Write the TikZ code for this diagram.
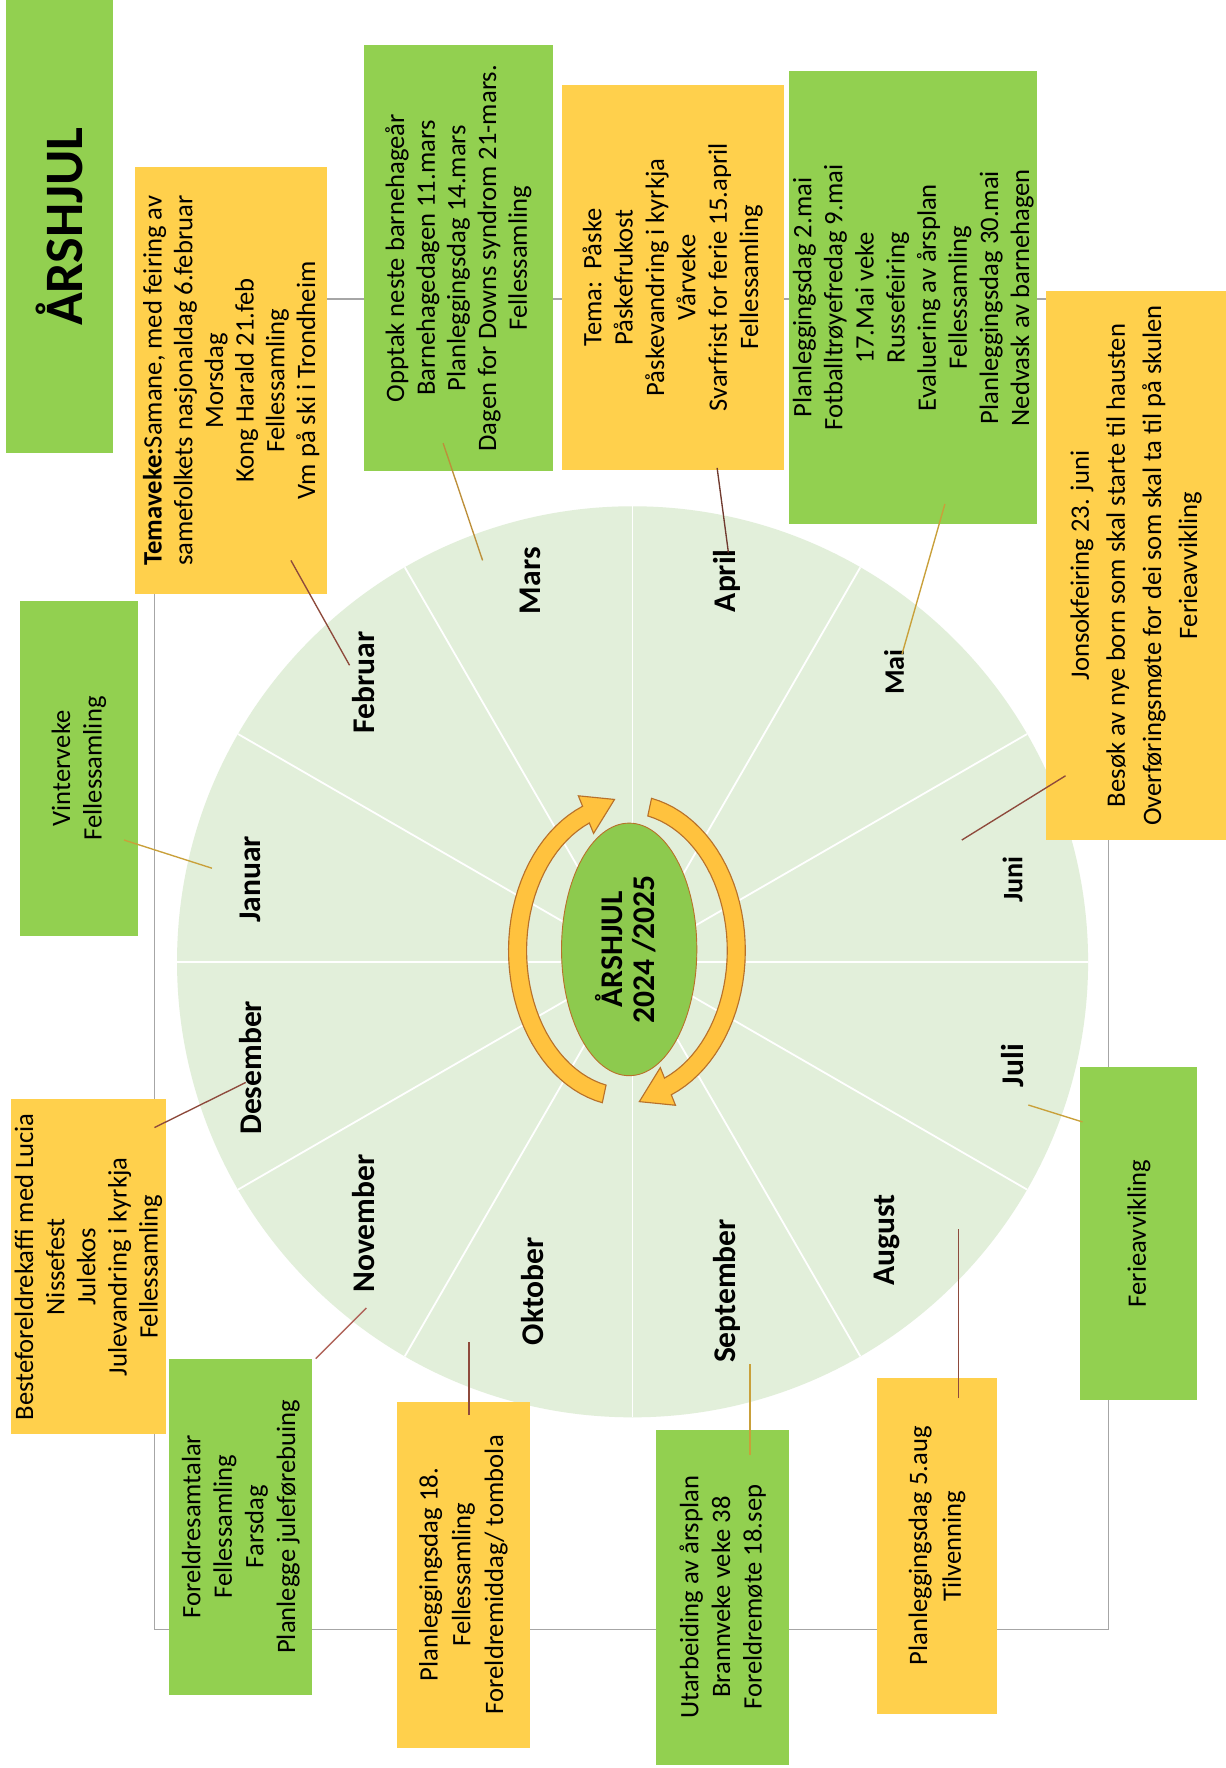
\documentclass[tikz,border=0pt]{standalone}
\usepackage{fontspec}
\setmainfont{Carlito}
\usetikzlibrary{calc,shapes.geometric}
\definecolor{boxgreen}{HTML}{92D050}
\definecolor{boxyellow}{HTML}{FFD04C}
\definecolor{wheelfill}{HTML}{E2EFDA}
\definecolor{framegray}{HTML}{A6A6A6}
\definecolor{arrowfill}{HTML}{FFC23E}
\definecolor{arrowline}{HTML}{B8712A}
\definecolor{ellfill}{HTML}{8DCA4E}
\definecolor{lngold}{HTML}{C9A03A}
\definecolor{lnbrown}{HTML}{8E4A3C}
\definecolor{lnpink}{HTML}{B0645A}
\begin{document}
\begin{tikzpicture}[x=0.5pt,y=-0.5pt,
  sz/.style 2 args={minimum width={(#1)*0.5pt}, minimum height={(#2)*0.5pt}},
  evbox/.style={rectangle, inner sep=0pt, rotate=90, align=center,
    font=\fontsize{11.8}{13.8}\selectfont},
  gbox/.style={evbox, fill=boxgreen},
  ybox/.style={evbox, fill=boxyellow},
  month/.style={rotate=90, inner sep=0pt, font=\bfseries\fontsize{14}{16}\selectfont},
  smonth/.style={month, font=\bfseries\fontsize{12.5}{14}\selectfont},
  conn/.style={line width=0.6pt},
  spoke/.style={white, line width=0.8pt},
  arrowshape/.style={fill=arrowfill, draw=arrowline, line width=0.5pt}]
\useasboundingbox (0,0) rectangle (1087,1568);
\fill[white] (0,0) rectangle (1087,1568);

% frame behind the boxes
\draw[framegray, line width=0.7pt] (137,265) rectangle (983,1445);

% wheel
\coordinate (wc) at (561,853);
\fill[wheelfill] (wc) circle[radius=404];
\foreach \a in {0,30,...,330}
  \draw[spoke] (wc) -- ++({404*cos(\a)},{404*sin(\a)});

% circular arrows
\def\acx{556}\def\acy{843}\def\arx{97}\def\ary{130}\def\ah{8}\def\ahh{18}
\filldraw[arrowshape]
  plot[domain=258:112, samples=40] ({\acx+(\arx+\ah)*cos(\x)},{\acy-(\ary+\ah)*sin(\x)})
  -- ({\acx+(\arx+\ahh)*cos(112)},{\acy-(\ary+\ahh)*sin(112)})
  -- (545,709)
  -- ({\acx+(\arx-\ahh)*cos(112)},{\acy-(\ary-\ahh)*sin(112)})
  -- plot[domain=112:258, samples=40] ({\acx+(\arx-\ah)*cos(\x)},{\acy-(\ary-\ah)*sin(\x)})
  -- cycle;
\filldraw[arrowshape]
  plot[domain=78:-68, samples=40] ({\acx+(\arx+\ah)*cos(\x)},{\acy-(\ary+\ah)*sin(\x)})
  -- ({\acx+(\arx+\ahh)*cos(-68)},{\acy-(\ary+\ahh)*sin(-68)})
  -- (567,977)
  -- ({\acx+(\arx-\ahh)*cos(-68)},{\acy-(\ary-\ahh)*sin(-68)})
  -- plot[domain=-68:78, samples=40] ({\acx+(\arx-\ah)*cos(\x)},{\acy-(\ary-\ah)*sin(\x)})
  -- cycle;

% centre
\node[ellipse, fill=ellfill, draw=arrowline, line width=0.4pt, minimum width=60pt, minimum height=112pt, inner sep=0pt] (centre) at (558,842) {};
\node[rotate=90, align=center, font=\bfseries\fontsize{14}{14.5}\selectfont] (centretext) at (555,842) {ÅRSHJUL\\2024 /2025};

% month labels
\node[month] (jan) at (222,780) {Januar};
\node[month] (feb) at (322,605) {Februar};
\node[month] (mar) at (470,515) {Mars};
\node[month] (apr) at (645,515) {April};
\node[smonth] (mai) at (793,596) {Mai};
\node[smonth] (jun) at (898,780) {Juni};
\node[month] (jul) at (898,945) {Juli};
\node[month] (aug) at (787,1100) {August};
\node[month] (sep) at (645,1145) {September};
\node[month] (okt) at (472,1145) {Oktober};
\node[month] (nov) at (322,1085) {November};
\node[month] (des) at (222,947) {Desember};

% title
\node[gbox, sz={402}{95}, font=\bfseries\fontsize{24}{26}\selectfont] (title) at (52.5,201) {ÅRSHJUL};

% event boxes
\node[gbox, sz={297}{104}, font=\fontsize{11.8}{14}\selectfont] (bjan) at (70,681.5) {Vinterveke\\Fellessamling};
\node[ybox, sz={379}{170}, font=\fontsize{11.8}{13.6}\selectfont] (bfeb) at (205,337.5) {\textbf{Temaveke:}Samane, med feiring av\\samefolkets nasjonaldag 6.februar\\Morsdag\\Kong Harald 21.feb\\Fellessamling\\Vm på ski i Trondheim};
\node[gbox, sz={378}{167}, font=\fontsize{11.8}{13.6}\selectfont] (bmar) at (406.5,229) {Opptak neste barnehageår\\Barnehagedagen 11.mars\\Planleggingsdag 14.mars\\Dagen for Downs syndrom 21-mars.\\Fellessamling};
\node[ybox, sz={342}{197}, font=\fontsize{11.8}{13.9}\selectfont] (bapr) at (596.5,246) {Tema:\ \ Påske\\Påskefrukost\\Påskevandring i kyrkja\\Vårveke\\Svarfrist for ferie 15.april\\Fellessamling};
\node[gbox, sz={402}{220}, font=\fontsize{11.8}{13.8}\selectfont] (bmai) at (810,264) {Planleggingsdag 2.mai\\Fotballtrøyefredag 9.mai\\17.Mai veke\\Russefeiring\\Evaluering av årsplan\\Fellessamling\\Planleggingsdag 30.mai\\Nedvask av barnehagen};
\node[ybox, sz={487}{159}, font=\fontsize{11.8}{16}\selectfont] (bjun) at (1007.5,501.5) {Jonsokfeiring 23. juni\\Besøk av nye born som skal starte til hausten\\Overføringsmøte for dei som skal ta til på skulen\\Ferieavvikling};
\node[gbox, sz={296}{104}] (bjul) at (1010,1094) {Ferieavvikling};
\node[ybox, sz={298}{106}, font=\fontsize{11.8}{15}\selectfont] (baug) at (831,1371) {Planleggingsdag 5.aug\\Tilvenning};
\node[gbox, sz={297}{118}, font=\fontsize{11.8}{14}\selectfont] (bsep) at (641,1416.5) {Utarbeiding av årsplan\\Brannveke veke 38\\Foreldremøte 18.sep};
\node[ybox, sz={307}{118}, font=\fontsize{11.8}{14.5}\selectfont] (bokt) at (411,1396.5) {Planleggingsdag 18.\\Fellessamling\\Foreldremiddag/ tombola};
\node[gbox, sz={298}{127}, font=\fontsize{11.8}{14}\selectfont] (bnov) at (213.5,1354) {Foreldresamtalar\\Fellessamling\\Farsdag\\Planlegge juleførebuing};
\node[ybox, sz={297}{137}, font=\fontsize{11.8}{13.8}\selectfont] (bdes) at (78.5,1123.5) {Besteforeldrekaffi med Lucia\\Nissefest\\Julekos\\Julevandring i kyrkja\\Fellessamling};

% connector end points
\coordinate (cjan1) at (110,745);  \coordinate (cjan2) at (188,770);
\coordinate (cfeb1) at (258,497);  \coordinate (cfeb2) at (310,590);
\coordinate (cmar1) at (393,393);  \coordinate (cmar2) at (428,497);
\coordinate (capr1) at (636,415);  \coordinate (capr2) at (646,490);
\coordinate (cmai1) at (838,447);  \coordinate (cmai2) at (800,580);
\coordinate (cjun1) at (945,688);  \coordinate (cjun2) at (853,745);
\coordinate (cjul1) at (960,995);  \coordinate (cjul2) at (912,980);
\coordinate (caug1) at (850,1240); \coordinate (caug2) at (850,1090);
\coordinate (csep1) at (665,1290); \coordinate (csep2) at (665,1210);
\coordinate (cokt1) at (416,1255); \coordinate (cokt2) at (416,1190);
\coordinate (cnov1) at (280,1205); \coordinate (cnov2) at (325,1160);
\coordinate (cdes1) at (137,1000); \coordinate (cdes2) at (218,960);

\draw[conn, lngold]  (cjan1) -- (cjan2);
\draw[conn, lnbrown] (cfeb1) -- (cfeb2);
\draw[conn, lngold!80!lnbrown] (cmar1) -- (cmar2);
\draw[conn, lnbrown!80!black] (capr1) -- (capr2);
\draw[conn, lngold]  (cmai1) -- (cmai2);
\draw[conn, lnbrown] (cjun1) -- (cjun2);
\draw[conn, lngold]  (cjul1) -- (cjul2);
\draw[conn, lnbrown] (caug1) -- (caug2);
\draw[conn, lngold]  (csep1) -- (csep2);
\draw[conn, lnbrown] (cokt1) -- (cokt2);
\draw[conn, lnpink]  (cnov1) -- (cnov2);
\draw[conn, lnbrown] (cdes1) -- (cdes2);
\end{tikzpicture}
\end{document}
